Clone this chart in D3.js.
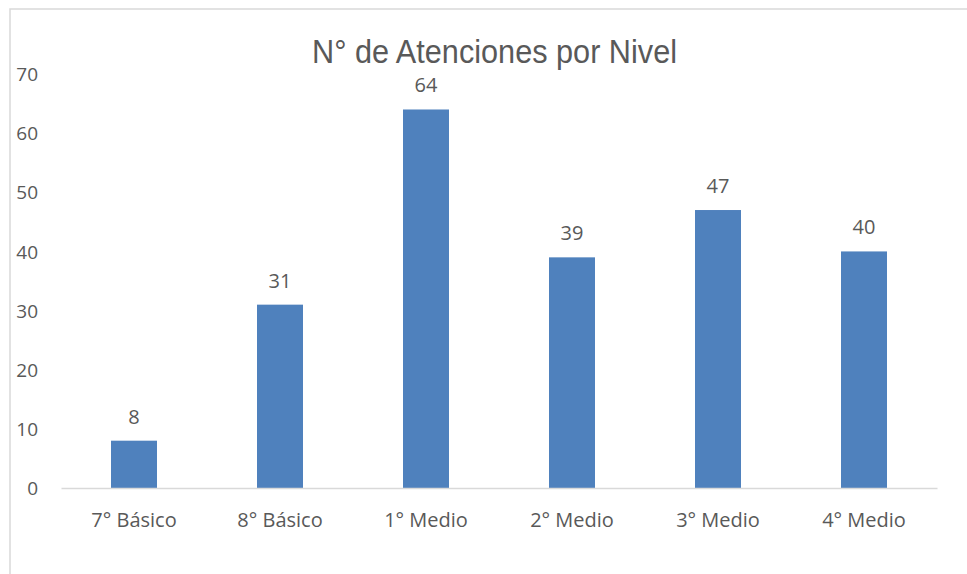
<!DOCTYPE html>
<html><head><meta charset="utf-8">
<script src="https://cdn.jsdelivr.net/npm/d3@7"></script>
<style>body{margin:0;background:#fff}</style>
</head><body>
<svg id="c" width="967" height="574"></svg>
<script>
const categories = ["7° Básico","8° Básico","1° Medio","2° Medio","3° Medio","4° Medio"];
const values = [8,31,64,39,47,40];
const yTicks = [0,10,20,30,40,50,60,70];
const title = "N° de Atenciones por Nivel";

const svg = d3.select("#c");
const W = 967, H = 574;
const x = d3.scaleBand().domain(categories).range([61,937]).paddingInner(0.685).paddingOuter(0.3425);
const y = d3.scaleLinear().domain([0,70]).range([488,74]);
const font = "'Open Sans', 'Noto Sans', sans-serif";
const txt = "#595959";

// frame
svg.append("rect").attr("x",10).attr("y",9).attr("width",W+20).attr("height",H+20)
  .attr("fill","none").attr("stroke","#d9d9d9").attr("stroke-width",1.5);

svg.append("text").attr("x",494.5).attr("y",63).attr("text-anchor","middle")
  .attr("font-family","'Liberation Sans', Arial, sans-serif").attr("font-size",33.5)
  .attr("textLength",365).attr("lengthAdjust","spacingAndGlyphs")
  .attr("fill",txt).text(title);

// y axis labels
const ya = svg.append("g").attr("transform","translate(38,0)")
  .call(d3.axisLeft(y).tickValues(yTicks).tickSize(0).tickPadding(0));
ya.select(".domain").remove();
ya.selectAll("text").attr("font-family",font).attr("font-size",19).attr("fill",txt).attr("dy","0.35em");

// bars
svg.append("g").selectAll("rect").data(values).join("rect")
  .attr("x",(d,i)=>x(categories[i])).attr("width",x.bandwidth())
  .attr("y",d=>y(d)).attr("height",d=>y(0)-y(d)).attr("fill","#4f81bd");

// value labels
svg.append("g").selectAll("text").data(values).join("text")
  .attr("x",(d,i)=>x(categories[i])+x.bandwidth()/2).attr("y",d=>y(d)-17)
  .attr("text-anchor","middle").attr("font-family",font).attr("font-size",20).attr("fill",txt)
  .text(d=>d);

// x axis
const xa = svg.append("g").attr("transform","translate(0,488)")
  .call(d3.axisBottom(x).tickSize(0).tickPadding(0));
xa.select(".domain").attr("stroke","#d9d9d9").attr("stroke-width",1.5);
xa.selectAll("text").attr("font-family",font).attr("font-size",20).attr("fill",txt).attr("dy","39").attr("y",0);
</script>
</body></html>
